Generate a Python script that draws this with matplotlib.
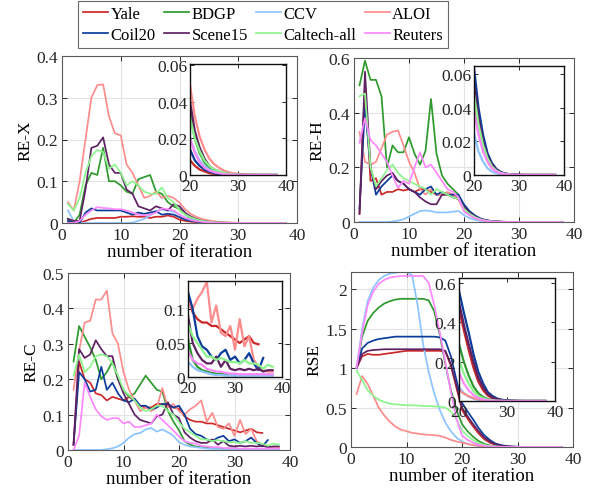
import matplotlib
matplotlib.use("Agg")
import matplotlib.pyplot as plt
from matplotlib.ticker import FuncFormatter
from matplotlib import font_manager

avail = {f.name for f in font_manager.fontManager.ttflist}
fam = [f for f in ['Liberation Serif', 'Times New Roman', 'Nimbus Roman', 'TeX Gyre Termes', 'STIXGeneral'] if f in avail]
plt.rcParams['font.family'] = fam + ['DejaVu Serif']

names = ['Yale', 'BDGP', 'CCV', 'ALOI', 'Coil20', 'Scene15', 'Caltech-all', 'Reuters']
colors = ['#cc2828', '#2e9a2e', '#8cc4ff', '#ff8c8c', '#0a3c9c', '#5e2262', '#8cf58c', '#ff88ff']

# ---------------- RE-X ----------------
rex_yale = [0.0,0.0,0.0,0.005,0.01,0.012,0.012,0.012,0.012,0.015,0.015,0.016,0.015,0.015,0.012,0.015,0.015,0.018,0.015,0.008,
            0.005,0.003,0.002,0.001,0.0006,0.0004,0.0002,0.0001,0,0,0,0,0,0,0,0,0,0]
rex_bdgp = [0.01,0.0,0.02,0.09,0.12,0.115,0.18,0.1,0.1,0.09,0.075,0.07,0.105,0.11,0.115,0.075,0.07,0.05,0.04,0.033,
            0.02,0.012,0.007,0.004,0.0025,0.0015,0.001,0.0005,0.0003,0.0002,0.0001,0,0,0,0,0,0,0]
rex_ccv = [0.03,0.005,0.0,0,0,0,0,0,0,0,0,0.001,0.005,0.01,0.018,0.028,0.032,0.03,0.027,0.02,
           0.013,0.008,0.005,0.003,0.002,0.001,0.0005,0.0003,0.0002,0.0001,0,0,0,0,0,0,0,0]
rex_aloi = [0.05,0.03,0.1,0.2,0.3,0.33,0.332,0.255,0.215,0.21,0.14,0.12,0.09,0.06,0.065,0.075,0.06,0.065,0.06,0.049,
            0.032,0.021,0.014,0.009,0.006,0.004,0.0025,0.0015,0.001,0.0006,0.0004,0.0002,0.0001,0,0,0,0,0]
rex_coil20 = [0.005,0.0,0.0,0.025,0.035,0.03,0.03,0.03,0.03,0.03,0.025,0.02,0.025,0.022,0.025,0.028,0.02,0.022,0.02,0.014,
              0.008,0.005,0.003,0.002,0.001,0.0006,0.0003,0.0002,0.0001,0,0,0,0,0,0,0,0,0]
rex_scene15 = [0.01,0.005,0.005,0.08,0.18,0.185,0.205,0.14,0.12,0.12,0.08,0.07,0.04,0.035,0.03,0.04,0.035,0.03,0.045,0.04,
               0.024,0.015,0.009,0.005,0.003,0.002,0.001,0.0006,0.0003,0.0002,0.0001,0,0,0,0,0,0,0]
rex_caltech = [0.045,0.03,0.06,0.12,0.16,0.175,0.17,0.13,0.14,0.12,0.09,0.1,0.09,0.075,0.07,0.07,0.085,0.06,0.05,0.031,
               0.02,0.013,0.008,0.005,0.003,0.002,0.0012,0.0007,0.0004,0.0002,0.0001,0,0,0,0,0,0,0]
rex_reuters = [0.0,0.0,0.005,0.02,0.03,0.038,0.036,0.035,0.033,0.033,0.03,0.025,0.02,0.018,0.02,0.025,0.035,0.033,0.03,0.02,
               0.012,0.007,0.004,0.0025,0.0015,0.001,0.0005,0.0003,0.0002,0.0001,0,0,0,0,0,0,0,0]

# ---------------- RE-H ----------------
reh_yale = [0.03,0.5,0.15,0.16,0.1,0.11,0.11,0.12,0.115,0.12,0.11,0.12,0.12,0.11,0.1,0.1,0.1,0.1,0.085,0.058,
            0.035,0.02,0.011,0.006,0.003,0.0015,0.0008,0.0004,0.0002,0.0001,0,0,0,0,0,0,0,0]
reh_bdgp = [0.5,0.59,0.52,0.52,0.46,0.2,0.28,0.255,0.255,0.31,0.25,0.21,0.26,0.45,0.25,0.17,0.14,0.12,0.1,0.05,
            0.03,0.017,0.009,0.005,0.0025,0.0012,0.0006,0.0003,0.0001,0,0,0,0,0,0,0,0,0]
reh_ccv = [0,0,0,0,0,0,0.002,0.005,0.01,0.02,0.03,0.04,0.042,0.04,0.035,0.035,0.035,0.038,0.04,0.025,
           0.014,0.008,0.004,0.002,0.001,0.0005,0.0002,0.0001,0,0,0,0,0,0,0,0,0,0]
reh_aloi = [0.33,0.22,0.21,0.22,0.27,0.32,0.33,0.335,0.28,0.22,0.18,0.12,0.1,0.12,0.1,0.1,0.11,0.1,0.08,0.043,
            0.026,0.015,0.008,0.004,0.002,0.001,0.0005,0.0002,0.0001,0,0,0,0,0,0,0,0,0]
reh_coil20 = [0.05,0.42,0.2,0.1,0.13,0.15,0.17,0.15,0.14,0.12,0.11,0.1,0.12,0.13,0.1,0.11,0.1,0.1,0.1,0.064,
              0.04,0.024,0.013,0.007,0.0035,0.0017,0.0008,0.0004,0.0002,0.0001,0,0,0,0,0,0,0,0]
reh_scene15 = [0.03,0.55,0.2,0.12,0.15,0.17,0.18,0.15,0.14,0.12,0.11,0.09,0.075,0.065,0.065,0.1,0.1,0.09,0.085,0.055,
               0.034,0.02,0.011,0.006,0.003,0.0015,0.0007,0.0003,0.0001,0,0,0,0,0,0,0,0,0]
reh_caltech = [0.46,0.47,0.2,0.13,0.16,0.19,0.21,0.18,0.16,0.15,0.14,0.13,0.12,0.1,0.12,0.11,0.1,0.09,0.085,0.048,
               0.03,0.018,0.01,0.005,0.0025,0.0012,0.0006,0.0003,0.0001,0,0,0,0,0,0,0,0,0]
reh_reuters = [0.29,0.38,0.3,0.28,0.25,0.22,0.17,0.125,0.15,0.14,0.2,0.255,0.2,0.21,0.18,0.15,0.12,0.11,0.09,0.038,
               0.024,0.014,0.008,0.004,0.002,0.001,0.0005,0.0002,0.0001,0,0,0,0,0,0,0,0,0]

# ---------------- RE-C ----------------
rec_yale = [0.015,0.25,0.2,0.19,0.16,0.155,0.14,0.15,0.145,0.14,0.15,0.14,0.125,0.12,0.12,0.13,0.13,0.125,0.12,0.117,
            0.095,0.085,0.08,0.08,0.075,0.075,0.07,0.065,0.06,0.055,0.05,0.055,0.06,0.05,0.048]
rec_bdgp = [0.25,0.35,0.32,0.29,0.255,0.2,0.22,0.25,0.2,0.17,0.15,0.16,0.185,0.21,0.19,0.17,0.165,0.11,0.08,0.056,
            0.025,0.015,0.01,0.008,0.006,0.005,0.005,0.004,0.004,0.004,0.003,0.003,0.003,0.003,0.003,0.003,0.003,0.003]
rec_ccv = [0,0,0,0,0,0,0.002,0.005,0.01,0.02,0.035,0.045,0.048,0.058,0.062,0.052,0.058,0.05,0.04,0.022,
           0.015,0.01,0.008,0.006,0.004,0.003,0.003,0.002,0.002,0.002,0.002,0.002,0.002,0.002,0.002,0.002,0.002,0.002]
rec_aloi = [0.17,0.28,0.36,0.365,0.425,0.425,0.45,0.33,0.3,0.22,0.17,0.14,0.11,0.12,0.11,0.12,0.175,0.12,0.13,0.11,
            0.1,0.115,0.125,0.14,0.08,0.105,0.065,0.06,0.075,0.04,0.085,0.045,0.06,0.025,0.015,0.01,0.008,0.008]
rec_coil20 = [0.015,0.22,0.2,0.165,0.17,0.235,0.17,0.19,0.16,0.14,0.135,0.145,0.125,0.125,0.115,0.12,0.13,0.13,0.12,0.125,
              0.1,0.06,0.045,0.04,0.03,0.025,0.035,0.04,0.025,0.03,0.02,0.025,0.035,0.02,0.01,0.028]
rec_scene15 = [0.015,0.285,0.26,0.27,0.31,0.285,0.265,0.265,0.2,0.16,0.13,0.1,0.085,0.08,0.075,0.095,0.1,0.135,0.1,0.09,
               0.05,0.035,0.025,0.02,0.02,0.03,0.015,0.025,0.012,0.01,0.012,0.01,0.012,0.01,0.012,0.008,0.01,0.01]
rec_caltech = [0.21,0.27,0.22,0.235,0.265,0.27,0.265,0.245,0.21,0.17,0.155,0.14,0.12,0.11,0.115,0.125,0.125,0.11,0.1,0.078,
               0.06,0.05,0.04,0.03,0.03,0.025,0.028,0.025,0.022,0.022,0.02,0.025,0.02,0.02,0.018,0.012,0.018,0.015]
rec_reuters = [0.0,0.04,0.19,0.15,0.115,0.095,0.085,0.09,0.09,0.075,0.08,0.065,0.065,0.07,0.075,0.1,0.085,0.07,0.055,0.038,
               0.025,0.02,0.018,0.012,0.01,0.008,0.008,0.006,0.005,0.005,0.004,0.004,0.004,0.004,0.004,0.004,0.004,0.004]

# ---------------- RSE ----------------
rse_yale = [1.0,1.15,1.18,1.17,1.17,1.18,1.19,1.2,1.21,1.22,1.22,1.22,1.22,1.22,1.22,1.22,1.21,1.03,0.75,0.47,
            0.36,0.26,0.17,0.1,0.055,0.028,0.014,0.007,0.003,0.0015,0.0007,0.0003,0,0,0,0,0,0]
rse_bdgp = [1.0,1.4,1.6,1.7,1.77,1.82,1.85,1.87,1.88,1.88,1.88,1.88,1.88,1.86,1.72,1.42,1.05,0.72,0.47,0.29,
            0.2,0.13,0.075,0.04,0.02,0.01,0.005,0.002,0.001,0.0005,0,0,0,0,0,0,0,0]
rse_ccv = [1.0,1.5,1.85,2.02,2.12,2.17,2.2,2.21,2.22,2.22,2.18,1.8,1.3,0.95,0.68,0.47,0.31,0.2,0.12,0.07,
           0.04,0.022,0.012,0.006,0.003,0.0015,0.0007,0.0003,0,0,0,0,0,0,0,0,0,0]
rse_aloi = [0.67,0.9,0.8,0.65,0.5,0.4,0.32,0.26,0.22,0.2,0.18,0.17,0.16,0.155,0.15,0.14,0.12,0.09,0.07,0.055,
            0.038,0.025,0.015,0.009,0.005,0.003,0.0015,0.0007,0.0003,0,0,0,0,0,0,0,0,0]
rse_coil20 = [1.0,1.25,1.32,1.35,1.37,1.38,1.39,1.4,1.4,1.4,1.4,1.4,1.4,1.4,1.4,1.39,1.35,1.15,0.85,0.56,
              0.45,0.35,0.24,0.15,0.09,0.045,0.025,0.012,0.006,0.003,0.0015,0.0007,0.0003,0,0,0,0,0]
rse_scene15 = [1.0,1.18,1.22,1.23,1.235,1.24,1.24,1.24,1.24,1.24,1.24,1.24,1.24,1.24,1.24,1.24,1.22,1.05,0.78,0.5,
               0.39,0.29,0.2,0.12,0.07,0.035,0.018,0.009,0.004,0.002,0.001,0.0005,0,0,0,0,0,0]
rse_caltech = [0.97,0.85,0.72,0.65,0.6,0.57,0.55,0.54,0.535,0.53,0.53,0.525,0.52,0.52,0.515,0.51,0.5,0.45,0.35,0.21,
               0.14,0.09,0.05,0.027,0.014,0.007,0.003,0.0015,0.0007,0,0,0,0,0,0,0,0,0]
rse_reuters = [1.0,1.45,1.8,1.97,2.07,2.12,2.15,2.16,2.17,2.17,2.17,2.17,2.17,2.08,1.8,1.45,1.08,0.7,0.36,0.145,
               0.09,0.055,0.03,0.016,0.008,0.004,0.002,0.001,0.0005,0,0,0,0,0,0,0,0,0]

metrics = {
    'RE-X': [rex_yale, rex_bdgp, rex_ccv, rex_aloi, rex_coil20, rex_scene15, rex_caltech, rex_reuters],
    'RE-H': [reh_yale, reh_bdgp, reh_ccv, reh_aloi, reh_coil20, reh_scene15, reh_caltech, reh_reuters],
    'RE-C': [rec_yale, rec_bdgp, rec_ccv, rec_aloi, rec_coil20, rec_scene15, rec_caltech, rec_reuters],
    'RSE': [rse_yale, rse_bdgp, rse_ccv, rse_aloi, rse_coil20, rse_scene15, rse_caltech, rse_reuters],
}

main_ylim = {'RE-X': (0, 0.4), 'RE-H': (0, 0.6), 'RE-C': (0, 0.5), 'RSE': (0, 2.22)}
main_yticks = {'RE-X': [0, 0.1, 0.2, 0.3, 0.4], 'RE-H': [0, 0.2, 0.4, 0.6],
               'RE-C': [0, 0.1, 0.2, 0.3, 0.4, 0.5], 'RSE': [0, 0.5, 1, 1.5, 2]}
ins_ylim = {'RE-X': (0, 0.0605), 'RE-H': (0, 0.065), 'RE-C': (0, 0.141), 'RSE': (0, 0.625)}
ins_yticks = {'RE-X': [0, 0.02, 0.04, 0.06], 'RE-H': [0, 0.02, 0.04, 0.06],
              'RE-C': [0, 0.05, 0.1], 'RSE': [0, 0.2, 0.4, 0.6]}

W, H = 597, 502
def rect(l, t, r, b):
    return [l / W, (H - b) / H, (r - l) / W, (b - t) / H]

main_rects = {'RE-X': rect(62, 57, 297, 224), 'RE-H': rect(354, 59, 574, 223),
              'RE-C': rect(68, 274, 290, 451), 'RSE': rect(351, 273, 573, 448)}
ins_rects = {'RE-X': rect(190, 65, 286, 176), 'RE-H': rect(474, 67, 564, 176),
             'RE-C': rect(188, 282, 282, 378), 'RSE': rect(459, 279, 555, 402)}

fmt = FuncFormatter(lambda v, p: '%g' % v)
FS = 12.5

fig = plt.figure(figsize=(W / 100, H / 100), dpi=100)
handles = []
for key in ['RE-X', 'RE-H', 'RE-C', 'RSE']:
    ax = fig.add_axes(main_rects[key])
    series = metrics[key]
    for i, s in enumerate(series):
        x = list(range(1, len(s) + 1))
        ln, = ax.plot(x, s, color=colors[i], lw=1.25, label=names[i])
        if key == 'RE-X':
            handles.append(ln)
    ax.set_xlim(0, 40)
    ax.set_ylim(*main_ylim[key])
    ax.set_xticks([0, 10, 20, 30, 40])
    ax.set_yticks(main_yticks[key])
    ax.yaxis.set_major_formatter(fmt)
    ax.grid(True, color='#e3e3e3', lw=0.8)
    ax.set_axisbelow(True)
    ax.tick_params(direction='in', top=True, right=True, length=3.5, width=0.7,
                   labelsize=FS, colors='#262626', pad=3)
    for sp in ax.spines.values():
        sp.set_color('#5a5a5a')
        sp.set_linewidth(0.8)
    ax.set_xlabel('number of iteration', fontsize=13.5, labelpad=0)
    ax.set_ylabel(key, fontsize=FS, labelpad=2)

    ia = fig.add_axes(ins_rects[key])
    for i, s in enumerate(series):
        x = list(range(1, len(s) + 1))
        ia.plot(x[19:], s[19:], color=colors[i], lw=1.6)
    ia.set_xlim(20, 40)
    ia.set_ylim(*ins_ylim[key])
    ia.set_xticks([20, 30, 40])
    ia.set_yticks(ins_yticks[key])
    ia.yaxis.set_major_formatter(fmt)
    ia.tick_params(direction='in', top=True, right=True, length=3, width=0.7,
                   labelsize=FS, colors='#262626', pad=2)
    for sp in ia.spines.values():
        sp.set_color('#111111')
        sp.set_linewidth(1.0)

order = [0, 4, 1, 5, 2, 6, 3, 7]
leg = fig.legend([handles[i] for i in order], [names[i] for i in order],
                 loc='upper center', bbox_to_anchor=(263 / W, 1 - 2 / H), ncol=4,
                 fontsize=12, frameon=True, fancybox=False, edgecolor='#444444',
                 handlelength=1.5, handletextpad=0.15, columnspacing=0.5,
                 borderpad=0.3, labelspacing=0.3, borderaxespad=0)
leg.get_frame().set_linewidth(0.8)

fig.savefig('out.png', dpi=100)
